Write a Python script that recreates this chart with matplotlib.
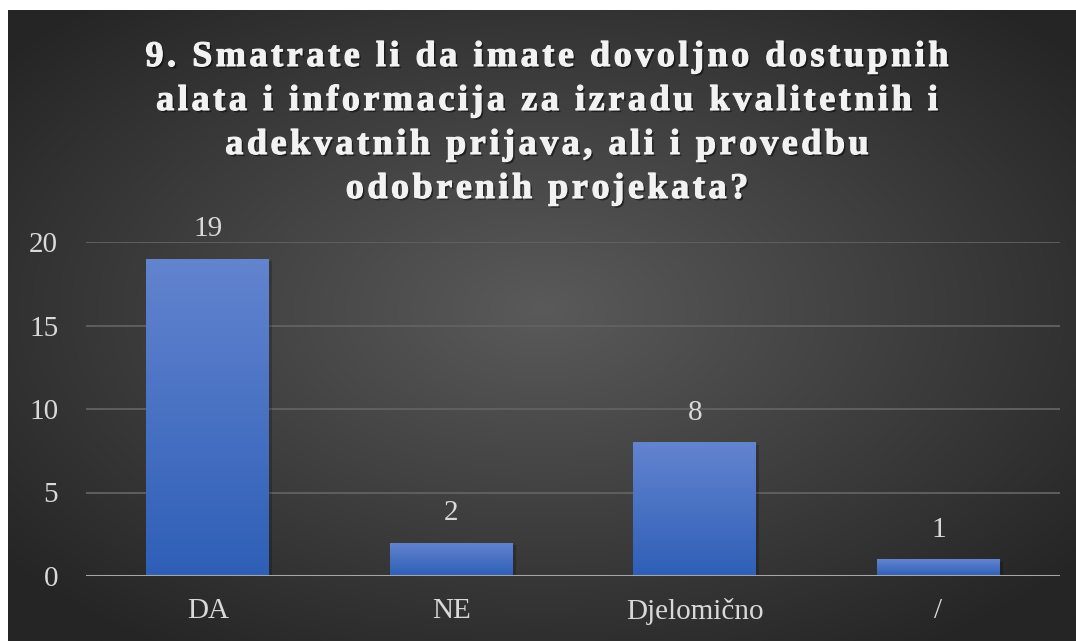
import numpy as np
import matplotlib.pyplot as plt
from matplotlib.colors import LinearSegmentedColormap
from matplotlib.font_manager import FontProperties
import matplotlib.patheffects as pe

categories = ["DA", "NE", "Djelomično", "/"]
values = [19, 2, 8, 1]
yticks = [0, 5, 10, 15, 20]
title_lines = ["9. Smatrate li da imate dovoljno dostupnih",
               "alata i informacija za izradu kvalitetnih i",
               "adekvatnih prijava, ali i provedbu",
               "odobrenih projekata?"]

plt.rcParams['font.family'] = ['Liberation Serif', 'DejaVu Serif']

W, H = 1076, 641
fig = plt.figure(figsize=(W / 100, H / 100), dpi=100, facecolor='white')

# dark radial background
bg = fig.add_axes([8 / W, 0, (W - 8) / W, (H - 10) / H])
bg.set_axis_off()
gx, gy = np.meshgrid(np.linspace(-1, 1, 400), np.linspace(-1, 1, 240))
r = np.sqrt(gx ** 2 + (gy + 0.05) ** 2)
r = np.clip(r / 1.3, 0, 1)
shade = 0x5a / 255 * (1 - r) + 0x25 / 255 * r
bg.imshow(np.dstack([shade, shade, shade]), extent=[0, 1, 0, 1], aspect='auto')
bg.set_xlim(0, 1)
bg.set_ylim(0, 1)

ax = fig.add_axes([86 / W, (H - 576) / H, 974 / W, 334 / H])
ax.set_facecolor('none')
x = np.arange(len(categories))
bars = ax.bar(x, values, width=0.505, color='#4472c4', zorder=3,
              path_effects=[pe.SimplePatchShadow(offset=(2, -2), shadow_rgbFace='black', alpha=0.2),
                            pe.Normal()])

cmap = LinearSegmentedColormap.from_list('bar', ['#2e5fb7', '#6384cf'])
grad = np.linspace(0, 1, 256).reshape(-1, 1)
for b in bars:
    x0, w, h = b.get_x(), b.get_width(), b.get_height()
    im = ax.imshow(grad, extent=[x0, x0 + w, 0, h], origin='lower', aspect='auto',
                   cmap=cmap, zorder=4)
    im.set_clip_path(b)

for xi, v in zip(x, values):
    ax.annotate(str(v), (xi, v), xytext=(0, 12), textcoords='offset points',
                ha='center', va='bottom', fontsize=21, color='#d9d9d9', zorder=5)

ax.set_xlim(-0.5, len(categories) - 0.5)
ax.set_ylim(0, 20)
ax.set_yticks(yticks)
ax.set_yticklabels([str(t) for t in yticks])
ax.set_xticks(x)
ax.set_xticklabels(categories)
ax.tick_params(axis='both', length=0, labelsize=21, colors='#d9d9d9')
ax.tick_params(axis='y', pad=20)
ax.tick_params(axis='x', pad=16)
for t in yticks[1:]:
    ax.axhline(t, color='#626262', lw=1.3, zorder=1)
ax.axhline(0, color='#a6a6a6', lw=2.2, zorder=6)
for s in ax.spines.values():
    s.set_visible(False)

# title with letter spacing, drawn char by char
prop = FontProperties(family='Liberation Serif', weight='bold', size=26)
renderer = fig.canvas.get_renderer()


def tw(s):
    return renderer.get_text_width_height_descent(s, prop, ismath=False)[0]


def pw(s):
    return tw(s + '|') - tw('|')


track = (803 - tw(title_lines[0])) / (len(title_lines[0]) - 1)
cx = 547
tfx = [pe.SimplePatchShadow(offset=(1.5, -1.5), shadow_rgbFace='black', alpha=0.5),
       pe.Stroke(linewidth=0.8, foreground='#f2f2f2'), pe.Normal()]
for k, line in enumerate(title_lines):
    total = tw(line) + (len(line) - 1) * track
    x_start = cx - total / 2
    base = 66 + 44 * k
    for i, ch in enumerate(line):
        if ch == ' ':
            continue
        xp = x_start + pw(line[:i]) + i * track
        fig.text(xp / W, 1 - base / H, ch, ha='left', va='baseline',
                 fontproperties=prop, color='#f2f2f2', path_effects=tfx)

fig.savefig('out.png', dpi=100, facecolor='white')
